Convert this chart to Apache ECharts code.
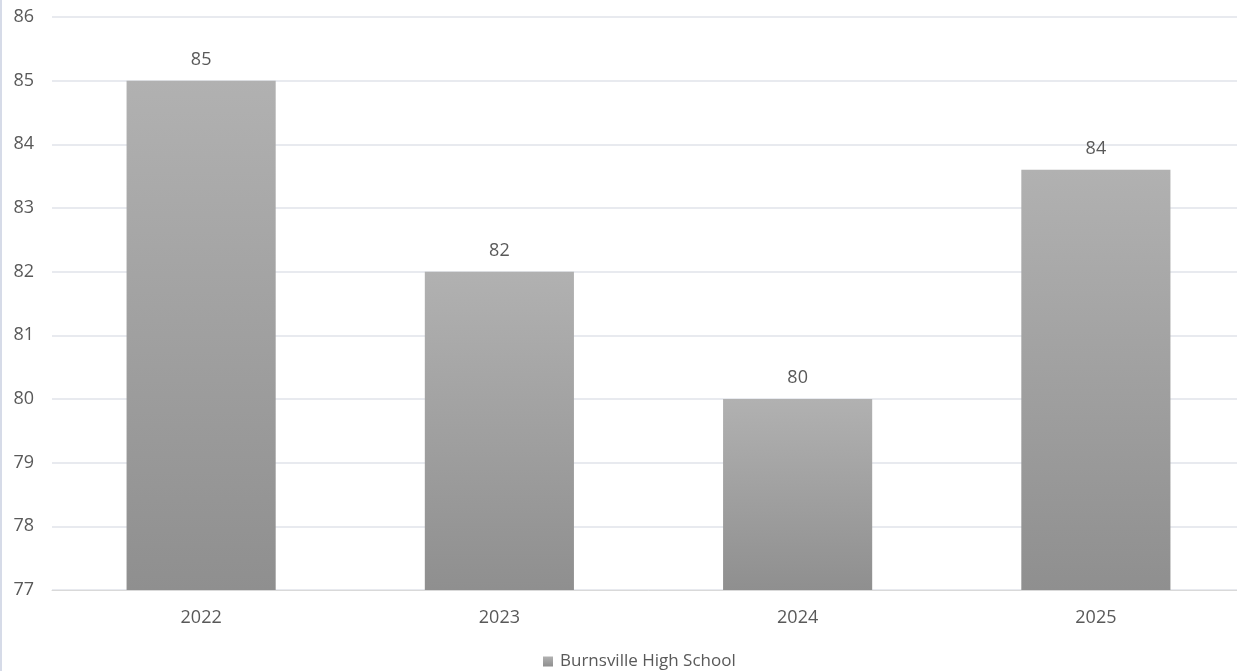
<!DOCTYPE html>
<html><head><meta charset="utf-8">
<script src="https://cdn.jsdelivr.net/npm/echarts@6/dist/echarts.min.js"></script>
<style>html,body{margin:0;padding:0;background:#fff;overflow:hidden}#c{width:1245px;height:671px}</style>
</head><body><div id="c"></div>
<script>
const categories = ['2022', '2023', '2024', '2025'];
const values = [85, 82, 80, 83.6];
const seriesName = 'Burnsville High School';

const chart = echarts.init(document.getElementById('c'));
chart.setOption({
  animation: false,
  graphic: [{type: 'line', shape: {x1: 1, y1: 0, x2: 1, y2: 671}, style: {stroke: '#d6dbe8', lineWidth: 2}}],
  grid: {left: 52, top: 17, right: 0, height: 573, containLabel: false},
  legend: {
    top: 648, left: 538, icon: 'rect', itemWidth: 10, itemHeight: 10, itemGap: 5,
    textStyle: {color: '#595959', fontSize: 17, fontFamily: 'Open Sans', padding: [0, 0, 0, 2]}
  },
  xAxis: {
    type: 'category', data: categories,
    axisLine: {lineStyle: {color: '#d9d9d9'}}, axisTick: {show: false},
    axisLabel: {color: '#595959', fontSize: 18, fontFamily: 'Open Sans', margin: 19}
  },
  yAxis: {
    type: 'value', min: 77, max: 86, interval: 1,
    axisLine: {show: false}, axisTick: {show: false},
    axisLabel: {color: '#595959', fontSize: 18, fontFamily: 'Open Sans', margin: 18},
    splitLine: {lineStyle: {color: '#e1e3ea', width: 1.5}}
  },
  series: [{
    name: seriesName, type: 'bar', data: values, barWidth: '50%',
    itemStyle: {color: new echarts.graphic.LinearGradient(0, 0, 0, 1, [
      {offset: 0, color: '#b1b1b1'}, {offset: 1, color: '#8f8f8f'}
    ])},
    label: {show: true, position: 'top', distance: 12, color: '#595959', fontSize: 18, fontFamily: 'Open Sans',
      formatter: p => Math.round(p.value)}
  }]
});
</script></body></html>
